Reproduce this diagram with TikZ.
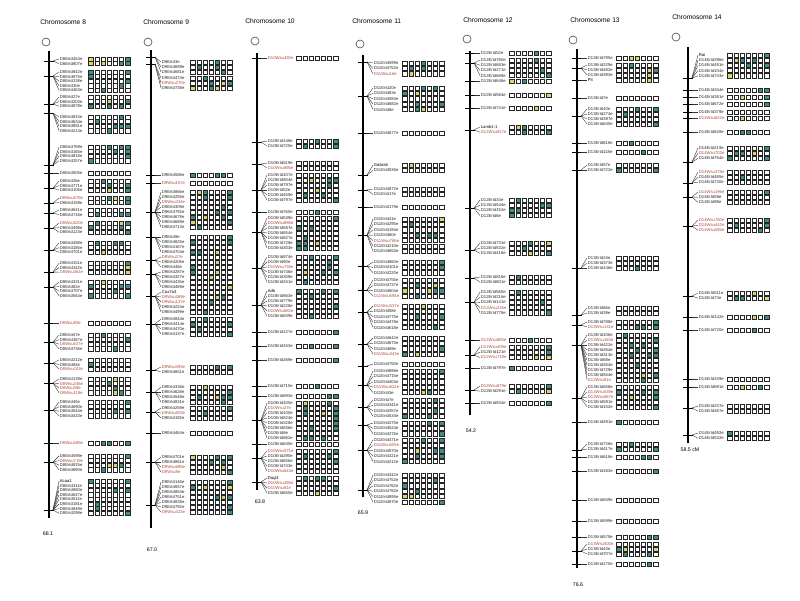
\documentclass[tikz,border=0pt]{standalone}
\usepackage{fontspec}
\setmainfont{Liberation Sans}
\usetikzlibrary{positioning}
\definecolor{mapteal}{HTML}{3F8F86}
\definecolor{mapyellow}{HTML}{DCD46E}
\definecolor{mapred}{HTML}{B04A3C}
\def\nogene{-}

% markers of one chromosome: #1 number, #2 x of the bar, #3 row pitch, #4 groups tick/row/count/gene
\newcommand{\markers}[4]{%
  \foreach \ty/\ry/\nr/\gn [count=\g] in {#4} {
    \coordinate (t#1-\g) at (#2+4,\ty);
    \draw[ctick] (#2-5,\ty) -- (#2+5,\ty);
    \foreach \k in {1,...,\nr} {
      \pgfmathsetmacro{\yy}{\ry+(\k-1)*#3}
      \pgfmathrandominteger{\rl}{1}{100}
      \pgfmathrandominteger{\nn}{2}{899}
      \ifnum\rl<15 \edef\lbl{D#1Wsu\nn e}\def\lc{mapred}\else\edef\lbl{D#1Ertd\nn e}\def\lc{black!85}\fi
      \ifnum\k=1 \ifx\gn\nogene\else\let\lbl\gn\def\lc{black}\fi\fi
      \node[mlabel,text=\lc] (m#1-\g-\k) at (#2+10,\yy) {\lbl};
      \draw[fanline] (t#1-\g) -- (m#1-\g-\k.west);
      \foreach \c in {1,...,7} {
        \pgfmathsetmacro{\xx}{#2+42+(\c-1)*6.1}
        \pgfmathrandominteger{\rr}{1}{100}
        \ifnum\c=7 \def\thr{38}\else\def\thr{11}\fi
        \def\fc{white}
        \ifnum\rr<\thr\relax \def\fc{mapteal}\fi
        \ifnum\rr>96 \def\fc{mapyellow}\fi
        \node[gbox,fill=\fc] (b#1-\g-\k-\c) at (\xx,\yy) {};
      }
    }
  }
}

\begin{document}
\begin{tikzpicture}[x=0.02cm,y=-0.02cm]
    \tikzstyle{chrtitle}=[font=\fontsize{3.8}{4.5}\selectfont,anchor=west,inner sep=0pt]
    \tikzstyle{cmlen}=[font=\fontsize{3}{3.6}\selectfont,inner sep=0pt]
    \tikzstyle{cen}=[circle,draw=black!70,line width=0.35pt,minimum size=0.16cm,inner sep=0pt]
    \tikzstyle{chrbar}=[line width=1.6pt]
    \tikzstyle{ctick}=[line width=0.4pt]
    \tikzstyle{fanline}=[line width=0.22pt,black!80]
    \tikzstyle{mlabel}=[font=\fontsize{2.4}{2.6}\selectfont,anchor=west,inner sep=0.3pt]
    \tikzstyle{gbox}=[draw=black!85,line width=0.38pt,minimum width=0.09cm,minimum height=0.082cm,inner sep=0pt]
    \useasboundingbox (0,0) rectangle (800,600);
    \pgfmathsetseed{4711}

    % chromosome 8
    \node[chrtitle] (h8) at (40,22) {Chromosome 8};
    \node[cen] (c8) at (46,42) {};
    \draw[chrbar] (49,51) -- (49,518);
    \markers{8}{49}{4.6}{61/59/2/-,76/72/5/-,104/97/3/-,113/117/4/-,165/147/4/-,173/173/1/-,188/181/3/-,203/198/2/-,213/210/2/-,228/223/3/-,250/243/3/-,272/263/3/-,287/282/4/-,323/323/1/-,342/335/4/-,363/360/3/-,383/379/4/-,410/402/4/-,443/443/1/-,462/456/4/-,510/481/8/Acaa1}
    \node[cmlen] (l8) at (48,534) {68.1};

    % chromosome 9
    \node[chrtitle] (h9) at (143,22) {Chromosome 9};
    \node[cen] (c9) at (148,42) {};
    \draw[chrbar] (151,50) -- (151,528);
    \markers{9}{151}{5.0}{57/62/3/-,64/78/3/-,175/175/1/-,183/183/1/-,212/192/8/-,237/237/4/-,260/257/3/-,274/272/4/-,296/292/5/Cox7a3,324/319/4/-,370/367/2/-,392/387/4/-,412/408/3/-,433/433/1/-,462/457/4/-,505/482/7/-}
    \node[cmlen] (l9) at (152,550) {67.0};

    % chromosome 10
    \node[chrtitle] (h10) at (245,21) {Chromosome 10};
    \node[cen] (c10) at (255,41) {};
    \draw[chrbar] (257,53) -- (257,490);
    \markers{10}{257}{5.0}{58/58/1/-,142/141/2/-,164/163/2/-,190/175/6/-,212/212/1/-,232/218/7/-,268/257/6/-,305/291/6/Adk,332/332/1/-,346/346/1/-,360/360/1/-,386/386/1/-,396/396/1/-,420/403/8/-,444/444/1/-,458/451/5/-,482/478/4/Dagl1}
    \node[cmlen] (l10) at (260,502) {63.8};

    % chromosome 11
    \node[chrtitle] (h11) at (352,21) {Chromosome 11};
    \node[cen] (c11) at (360,44) {};
    \draw[chrbar] (363,55) -- (363,497);
    \markers{11}{363}{5.4}{62/63/3/-,96/88/5/-,133/133/1/-,175/165/2/Gabra6,190/189/2/-,207/207/1/-,235/219/7/-,266/262/3/-,290/280/4/-,312/306/5/-,344/338/4/-,366/364/1/-,385/371/5/-,407/400/4/-,425/423/3/-,450/440/5/-,490/475/6/-}
    \node[cmlen] (l11) at (363,513) {65.9};

    % chromosome 12
    \node[chrtitle] (h12) at (463,20) {Chromosome 12};
    \node[cen] (c12) at (467,39) {};
    \draw[chrbar] (470,51) -- (470,415);
    \markers{12}{470}{5.2}{53/53/1/-,63/60/4/-,81/81/1/-,95/95/1/-,108/108/1/-,130/127/2/Lamb1-1,208/200/4/-,250/243/3/-,278/277/2/-,302/292/5/-,340/340/1/-,355/347/3/-,368/368/1/-,390/386/2/-,403/403/1/-}
    \node[cmlen] (l12) at (471,431) {54.2};

    % chromosome 13
    \node[chrtitle] (h13) at (570,20) {Chromosome 13};
    \node[cen] (c13) at (573,40) {};
    \draw[chrbar] (577,49) -- (577,568);
    \markers{13}{577}{5.0}{58/58/1/-,68/65/3/-,80/80/1/Pit,98/98/1/-,116/109/4/-,143/143/1/-,152/152/1/-,170/165/2/-,268/258/3/-,315/308/2/-,325/322/2/-,345/335/10/-,398/387/5/-,422/422/1/-,450/444/2/-,457/457/1/-,471/471/1/-,500/500/1/-,521/521/1/-,537/537/1/-,551/544/3/-,564/564/1/-}
    \node[cmlen] (l13) at (578,585) {76.6};

    % chromosome 14
    \node[chrtitle] (h14) at (672,17) {Chromosome 14};
    \node[cen] (c14) at (676,37) {};
    \draw[chrbar] (688,47) -- (688,443);
    \markers{14}{688}{5.2}{78/55/5/Rai,90/90/1/-,97/97/1/-,104/104/1/-,112/112/1/-,118/118/1/-,132/132/1/-,162/148/3/-,183/172/3/-,197/192/3/-,226/220/3/-,296/293/2/-,317/317/1/-,330/330/1/-,379/379/1/-,387/387/1/-,408/406/2/-,435/433/2/-}
    \node[cmlen] (l14) at (690,450) {58.5 cM};
\end{tikzpicture}
\end{document}
